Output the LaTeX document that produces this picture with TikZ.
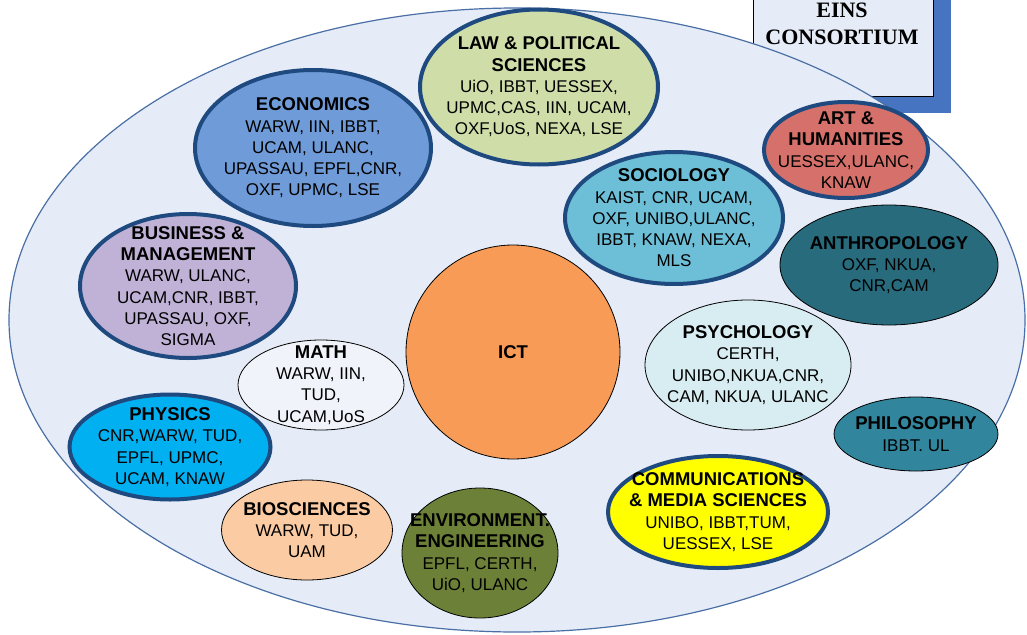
\documentclass[tikz,border=0pt]{standalone}
\usepackage{fontspec}
\setmainfont{Liberation Sans}
\newfontfamily\boxfont{Liberation Serif}
\usetikzlibrary{shapes.geometric}

\definecolor{bgfill}{HTML}{E6ECF7}
\definecolor{bgline}{HTML}{4A6FA5}
\definecolor{rimblue}{HTML}{1F4A80}
\definecolor{shadowblue}{HTML}{4674C1}
\definecolor{lawfill}{HTML}{CFDDA9}
\definecolor{econfill}{HTML}{6F9BD9}
\definecolor{busfill}{HTML}{C0B2D6}
\definecolor{mathfill}{HTML}{F0F3FA}
\definecolor{physfill}{HTML}{00B0F0}
\definecolor{biofill}{HTML}{FBCBA3}
\definecolor{envfill}{HTML}{6C8037}
\definecolor{commfill}{HTML}{FFFF00}
\definecolor{philfill}{HTML}{31859C}
\definecolor{psyfill}{HTML}{D8EDF2}
\definecolor{anthfill}{HTML}{276B7D}
\definecolor{socfill}{HTML}{6DBFD7}
\definecolor{artfill}{HTML}{D5716A}
\definecolor{ictfill}{HTML}{F79B57}

\newcommand{\topichead}[1]{{\fontsize{18.5}{21.3}\selectfont\bfseries #1}}

\tikzset{
  topic/.style={ellipse, draw=black, line width=0.8pt, inner sep=0pt},
  thickrim/.style={draw=rimblue, line width=4pt},
  names/.style={align=center, inner sep=0pt, font=\fontsize{17}{21.3}\selectfont},
}

\begin{document}
\begin{tikzpicture}[x=1pt,y=-1pt]
  \useasboundingbox (0,0) rectangle (1027,634);
  \clip (0,0) rectangle (1027,634);

  % consortium box, behind the big ellipse
  \fill [shadowblue] (769,-30) rectangle (951,113);
  \node (eins) [draw=black, line width=1pt, fill=bgfill, minimum width=180pt,
    minimum height=150pt, anchor=south west] at (753,97) {};
  \node (eins txt) [align=center, font=\boxfont\fontsize{22}{27}\selectfont\bfseries]
    at (842,24) {EINS\\CONSORTIUM};

  \draw [fill=bgfill, draw=bgline, line width=1.2pt] (517,320) ellipse [x radius=508, y radius=312];

  % disciplines
  \node (law) [topic, thickrim, fill=lawfill, minimum width=238pt, minimum height=155pt] at (539,87) {};
  \node (law txt) [names] at (law) {\topichead{LAW \& POLITICAL}\\\topichead{SCIENCES}\\UiO, IBBT, UESSEX,\\UPMC,CAS, IIN, UCAM,\\OXF,UoS, NEXA, LSE};

  \node (econ) [topic, thickrim, fill=econfill, minimum width=236pt, minimum height=156pt] at (313,148) {};
  \node (econ txt) [names] at (econ) {\topichead{ECONOMICS}\\WARW, IIN, IBBT,\\UCAM, ULANC,\\UPASSAU, EPFL,CNR,\\OXF, UPMC, LSE};

  \node (bus) [topic, thickrim, fill=busfill, minimum width=216pt, minimum height=144pt] at (188,286) {};
  \node (bus txt) [names] at (bus) {\topichead{BUSINESS \&}\\\topichead{MANAGEMENT}\\WARW, ULANC,\\UCAM,CNR, IBBT,\\UPASSAU, OXF,\\SIGMA};

  \node (math) [topic, fill=mathfill, minimum width=166pt, minimum height=90pt] at (321,385) {};
  \node (math txt) [names] at (math) {\topichead{MATH}\\WARW, IIN,\\TUD,\\UCAM,UoS};

  \node (phys) [topic, thickrim, fill=physfill, minimum width=201pt, minimum height=105pt] at (170,447) {};
  \node (phys txt) [names] at (phys) {\topichead{PHYSICS}\\CNR,WARW, TUD,\\EPFL, UPMC,\\UCAM, KNAW};

  \node (bio) [topic, fill=biofill, minimum width=171pt, minimum height=100pt] at (307,530) {};
  \node (bio txt) [names] at (bio) {\topichead{BIOSCIENCES}\\WARW, TUD,\\UAM};

  \node (env) [topic, fill=envfill, minimum width=156pt, minimum height=130pt] at (480,553) {};
  \node (env txt) [names] at (env) {\topichead{ENVIRONMENT.}\\\topichead{ENGINEERING}\\EPFL, CERTH,\\UiO, ULANC};

  \node (ict) [topic, circle, fill=ictfill, minimum size=214pt] at (513,352) {};
  \node (ict txt) [names] at (ict) {\topichead{ICT}};

  \node (comm) [topic, thickrim, fill=commfill, minimum width=220pt, minimum height=112pt] at (718,512) {};
  \node (comm txt) [names] at (comm) {\topichead{COMMUNICATIONS}\\\topichead{\& MEDIA SCIENCES}\\UNIBO, IBBT,TUM,\\UESSEX, LSE};

  \node (phil) [topic, fill=philfill, minimum width=164pt, minimum height=74pt] at (916,434) {};
  \node (phil txt) [names] at (phil) {\topichead{PHILOSOPHY}\\IBBT. UL};

  \node (psy) [topic, fill=psyfill, minimum width=206pt, minimum height=130pt] at (748,365) {};
  \node (psy txt) [names] at (psy) {\topichead{PSYCHOLOGY}\\CERTH,\\UNIBO,NKUA,CNR,\\CAM, NKUA, ULANC};

  \node (anth) [topic, fill=anthfill, minimum width=218pt, minimum height=120pt] at (889,265) {};
  \node (anth txt) [names] at (anth) {\topichead{ANTHROPOLOGY}\\OXF, NKUA,\\CNR,CAM};

  \node (soc) [topic, thickrim, fill=socfill, minimum width=218pt, minimum height=132pt] at (674,218) {};
  \node (soc txt) [names] at (soc) {\topichead{SOCIOLOGY}\\KAIST, CNR, UCAM,\\OXF, UNIBO,ULANC,\\IBBT, KNAW, NEXA,\\MLS};

  \node (art) [topic, thickrim, fill=artfill, minimum width=164pt, minimum height=96pt] at (846,150) {};
  \node (art txt) [names] at (art) {\topichead{ART \&}\\\topichead{HUMANITIES}\\UESSEX,ULANC,\\KNAW};
\end{tikzpicture}
\end{document}
